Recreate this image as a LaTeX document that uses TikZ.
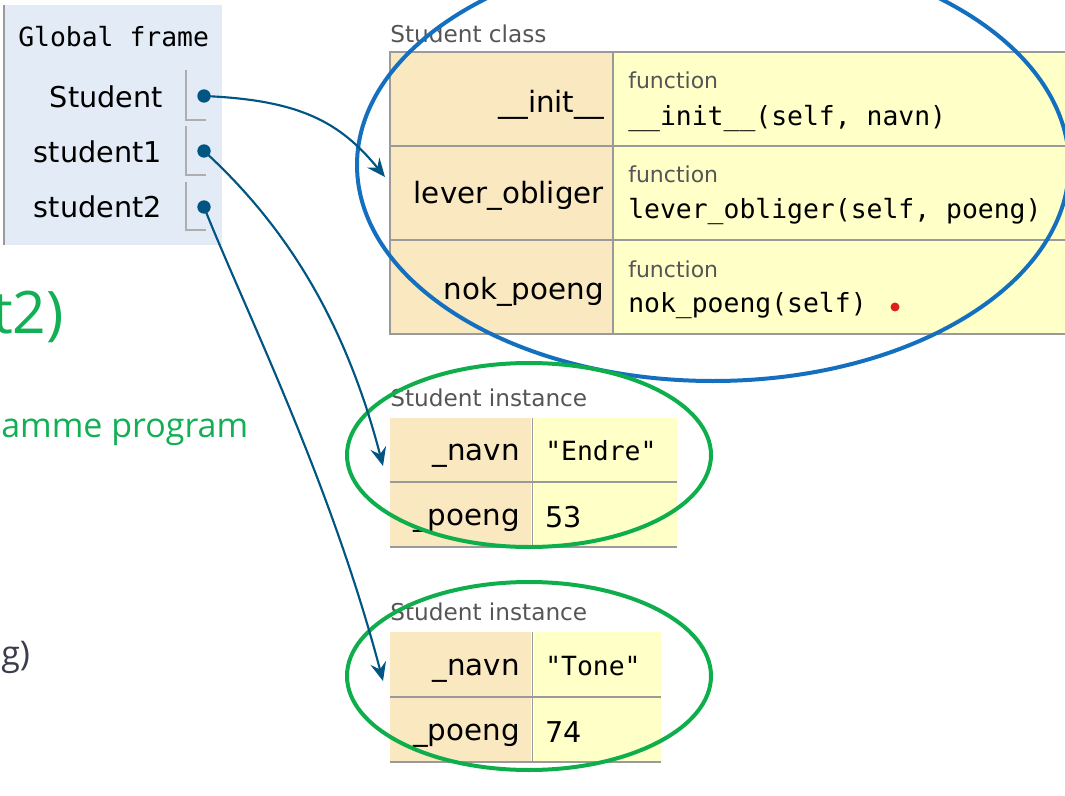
\documentclass[tikz,border=0pt]{standalone}
\usepackage{fontspec}
\setmainfont{DejaVu Sans}
\setmonofont{DejaVu Sans Mono}
\newfontfamily\slidefont{Open Sans}
\usetikzlibrary{arrows.meta}
\definecolor{framebg}{HTML}{E2EBF6}
\definecolor{keybg}{HTML}{F9E8C0}
\definecolor{valbg}{HTML}{FFFFC8}
\definecolor{linkc}{HTML}{005583}
\definecolor{ringblue}{HTML}{1470BE}
\definecolor{ringgreen}{HTML}{0EAE4C}
\definecolor{gridc}{HTML}{9A9A9A}
\definecolor{lblc}{HTML}{555555}
\definecolor{slidegreen}{HTML}{12AF55}
\definecolor{slidegray}{HTML}{3C3D4C}
\definecolor{dotred}{HTML}{E0201F}
\tikzset{
  framelbl/.style={anchor=base east, inner sep=0pt, font=\fontsize{21.5}{24}\selectfont},
  keylbl/.style={anchor=base east, inner sep=0pt, font=\fontsize{22}{24}\selectfont},
  funclbl/.style={anchor=base west, inner sep=0pt, text=lblc, font=\fontsize{16.5}{18}\selectfont},
  codelbl/.style={anchor=base west, inner sep=0pt, font=\ttfamily\fontsize{19.8}{22}\selectfont},
  vallbl/.style={anchor=base west, inner sep=0pt, font=\fontsize{21.5}{24}\selectfont},
  headlbl/.style={anchor=base west, inner sep=0pt, text=lblc, font=\fontsize{17.4}{20}\selectfont},
  ptrdot/.style={circle, fill=linkc, inner sep=0pt, minimum size=10pt},
  varbox/.style={draw=gridc!80, line width=0.9pt},
  link/.style={draw=linkc, line width=1.6pt, -{Stealth[length=14pt, width=12pt, inset=5pt]}},
  ring/.style={line width=3pt},
  gridline/.style={draw=gridc, line width=1.3pt},
}
\begin{document}
\begin{tikzpicture}[x=0.75pt, y=-0.75pt]
\useasboundingbox (0,0) rectangle (1065,796);
\clip (0,0) rectangle (1065,796);

% ---------- left slide text (partly hidden) ----------
\node[anchor=base east, inner sep=0pt, text=slidegreen, font=\slidefont\fontsize{44}{48}\selectfont] (t2) at (64,333) {t2)};
\node[anchor=base west, inner sep=0pt, text=slidegreen, font=\slidefont\fontsize{25.5}{28}\selectfont] (prog) at (1,437) {amme program};
\node[anchor=base west, inner sep=0pt, text=slidegray, font=\slidefont\fontsize{25.5}{28}\selectfont] (gpar) at (1,665) {g)};

% ---------- global frame ----------
\fill[framebg] (5,5) rectangle (222,245);
\draw[gridc, line width=1.5pt] (4,5) -- (4,245);
\node[anchor=base west, inner sep=0pt, font=\ttfamily\fontsize{19.8}{22}\selectfont] (gf) at (18,46) {Global frame};
\node[framelbl] (vStudent) at (163,107) {Student};
\node[framelbl] (vs1) at (162,162) {student1};
\node[framelbl] (vs2) at (162,217) {student2};
\draw[varbox] (186,70) -- (186,120) -- (206,120);
\draw[varbox] (186,126) -- (186,175) -- (206,175);
\draw[varbox] (186,182) -- (186,230) -- (206,230);
\node[ptrdot] (d1) at (204,96) {};
\node[ptrdot] (d2) at (204,151) {};
\node[ptrdot] (d3) at (204,207) {};

% ---------- Student class ----------
\node[headlbl] (classhead) at (390,42) {Student class};
\fill[keybg] (390,52) rectangle (613,334);
\fill[valbg] (613,52) rectangle (1070,334);
\draw[gridline] (390,52) rectangle (1070,334);
\draw[gridline] (390,146) -- (1070,146);
\draw[gridline] (390,240) -- (1070,240);
\draw[gridline] (613,52) -- (613,334);

\node[keylbl] (kinit) at (604,112) {\_\_init\_\_};
\node[funclbl] (finit) at (628,88) {function};
\node[codelbl] (cinit) at (628,125) {\_\_init\_\_(self, navn)};

\node[keylbl] (klever) at (604,203) {lever\_obliger};
\node[funclbl] (flever) at (628,182) {function};
\node[codelbl] (clever) at (628,218) {lever\_obliger(self, poeng)};

\node[keylbl] (knok) at (604,299) {nok\_poeng};
\node[funclbl] (fnok) at (628,277) {function};
\node[codelbl] (cnok) at (628,312) {nok\_poeng(self)};
\fill[dotred] (895,307) circle (4.5);

% ---------- Student instance 1 ----------
\node[headlbl] (inst1head) at (390,406) {Student instance};
\fill[keybg] (390,418) rectangle (531,481);
\fill[valbg] (534,418) rectangle (677,481);
\fill[keybg] (390,483) rectangle (531,546);
\fill[valbg] (534,483) rectangle (677,546);
\draw[gridline] (532.5,418) -- (532.5,547);
\draw[gridline] (390,482) -- (677,482);
\draw[gridline] (390,547) -- (677,547);
\node[keylbl] (n1) at (520,460) {\_navn};
\node[codelbl] (n1v) at (545,460) {"Endre"};
\node[keylbl] (p1) at (520,525) {\_poeng};
\node[vallbl] (p1v) at (545,527) {53};

% ---------- Student instance 2 ----------
\node[headlbl] (inst2head) at (390,620) {Student instance};
\fill[keybg] (390,632) rectangle (531,696);
\fill[valbg] (534,632) rectangle (661,696);
\fill[keybg] (390,698) rectangle (531,761);
\fill[valbg] (534,698) rectangle (661,761);
\draw[gridline] (532.5,632) -- (532.5,762);
\draw[gridline] (390,697) -- (661,697);
\draw[gridline] (390,762) -- (661,762);
\node[keylbl] (n2) at (520,675) {\_navn};
\node[codelbl] (n2v) at (545,675) {"Tone"};
\node[keylbl] (p2) at (520,740) {\_poeng};
\node[vallbl] (p2v) at (545,742) {74};

% ---------- highlight rings ----------
\draw[ring, ringblue] (713,165) ellipse [x radius=356, y radius=216];
\draw[ring, ringgreen] (529,455) ellipse [x radius=182, y radius=92];
\draw[ring, ringgreen] (529,676) ellipse [x radius=182, y radius=94];

% ---------- pointers ----------
\coordinate (t1) at (385,177);
\coordinate (t2tip) at (383,466);
\coordinate (t3tip) at (383,681);
\draw[link] (d1.center) .. controls (300,100) and (340,122) .. (t1);
\draw[link] (d2.center) .. controls (285,225) and (345,320) .. (t2tip);
\draw[link] (d3.center) .. controls (245,310) and (330,480) .. (t3tip);
\end{tikzpicture}
\end{document}
